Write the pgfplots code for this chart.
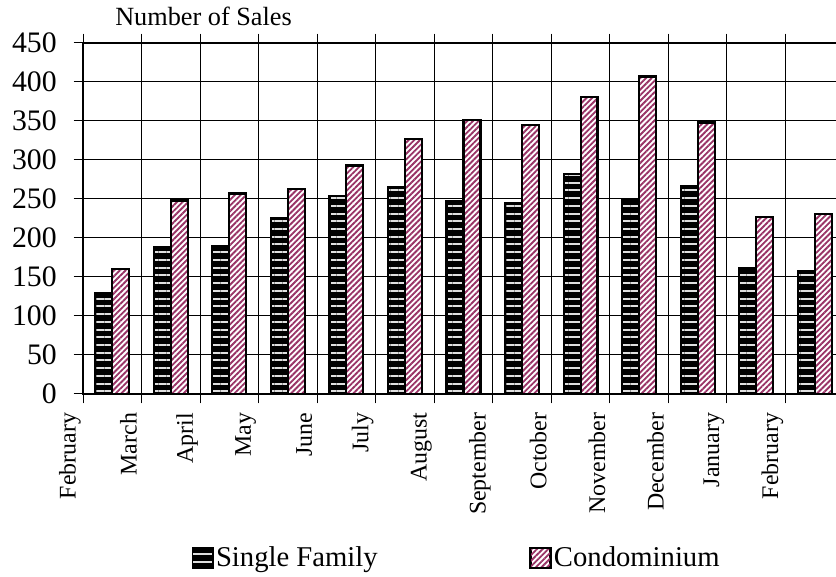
\documentclass[border=0pt]{standalone}
\usepackage{pgfplots}
\pgfplotsset{compat=1.18}
\usepackage{fontspec}
\setmainfont{Liberation Serif}
\usetikzlibrary{patterns.meta}
\definecolor{plum}{RGB}{153,51,102}
\begin{document}
\begin{tikzpicture}
\begin{axis}[
  at={(62.25pt,137.25pt)}, anchor=south west,
  scale only axis, width=570.75pt, height=263.25pt,
  xmin=-0.5, xmax=12.5, ymin=0, ymax=450,
  ytick={0,50,...,450},
  xtick={-0.5,0.5,...,11.5},
  xticklabels={February,March,April,May,June,July,August,September,October,November,December,January,February},
  /pgf/number format/assume math mode=true,
  tick align=outside,
  major tick length=7pt,
  tick style={black, line width=0.75pt},
  grid=major,
  major grid style={black, line width=0.75pt},
  axis line style={black, line width=1.5pt},
  yticklabel style={font=\fontsize{22.3}{24}\selectfont, inner sep=0pt, xshift=-12.5pt},
  xticklabel style={font=\fontsize{17.9}{20}\selectfont, inner sep=0pt, xshift=-9.75pt, yshift=-7pt, rotate=90, anchor=east},
  legend columns=2,
  legend style={at={(0.4915,-0.467)}, anchor=center, draw=none, fill=none,
    font=\fontsize{21.5}{24}\selectfont,
    /tikz/every even column/.append style={column sep=112pt},
    nodes={inner sep=2pt}},
  legend image code/.code={\draw[#1, line width=1.2pt] (0pt,-7.5pt) rectangle (15pt,7.5pt);},
  clip=false,
]
\addplot[ybar, bar width=0.29, bar shift=-0.145, draw=black, line width=1.6pt,
  preaction={fill=black},
  pattern={Lines[angle=0,distance=5.8pt,line width=1.5pt]}, pattern color=gray!25]
  coordinates {(0,130) (1,189) (2,190) (3,225) (4,254) (5,265) (6,247) (7,245) (8,282) (9,249) (10,266) (11,162) (12,158)};
\addlegendentry{Single Family}
\addplot[ybar, bar width=0.29, bar shift=0.145, draw=black, line width=1.6pt,
  preaction={fill=white},
  pattern={Lines[angle=45,distance=3pt,line width=1.4pt]}, pattern color=plum]
  coordinates {(0,160) (1,248) (2,257) (3,263) (4,293) (5,327) (6,351) (7,345) (8,381) (9,407) (10,348) (11,227) (12,231)};
\addlegendentry{Condominium}
\end{axis}
\node[anchor=base west, inner sep=0pt, font=\fontsize{19.7}{22}\selectfont] at (86.25pt,413.25pt) {Number of Sales};
\pgfresetboundingbox
\useasboundingbox (0,0) rectangle (627pt,432.75pt);
\end{tikzpicture}
\end{document}
